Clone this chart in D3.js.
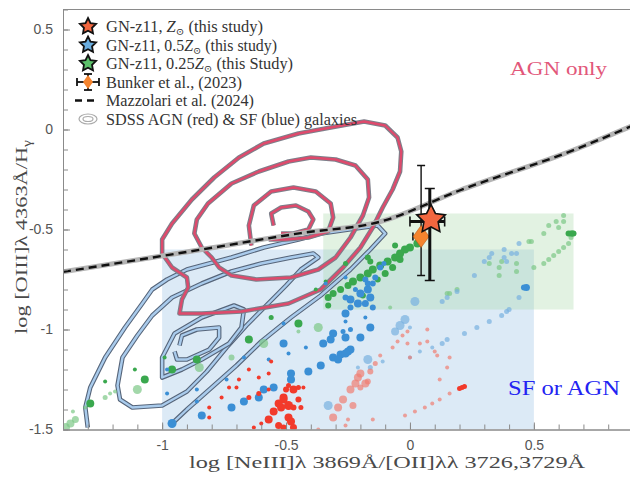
<!DOCTYPE html>
<html><head><meta charset="utf-8">
<script src="https://cdn.jsdelivr.net/npm/d3@7"></script>
<style>body{margin:0;background:#fff}svg{display:block}</style>
</head><body><svg id="c" width="630" height="477"></svg>
<script>
// ---------------- DATA ----------------
const xTicks = [-1, -0.5, 0, 0.5];
const xTickLabels = ["-1", "-0.5", "0", "0.5"];
const yTicks = [-1.5, -1, -0.5, 0, 0.5];
const yTickLabels = ["-1.5", "-1", "-0.5", "0", "0.5"];

const sfBox = [-1, 0.5, -1.5, -0.6];       // x0, x1, y0, y1
const greenBox = [-0.35, 0.66, -0.9, -0.42];

const mazX = [-1.4, -0.84, -0.44, -0.12, 0.2, 0.66, 0.9];
const mazY = [-0.712, -0.60, -0.518, -0.461, -0.305, -0.103, 0.02];

const agnOuter = [[-0.185,0.04],[-0.32,0.01],[-0.45,-0.02],[-0.59,-0.07],[-0.69,-0.14],[-0.79,-0.24],[-0.88,-0.35],[-0.96,-0.47],[-1.0,-0.55],[-1.0,-0.62],[-0.96,-0.69],[-0.90,-0.74],[-0.895,-0.79],[-0.92,-0.85],[-0.93,-0.92],[-0.84,-0.92],[-0.68,-0.91],[-0.49,-0.87],[-0.36,-0.80],[-0.27,-0.69],[-0.20,-0.59],[-0.15,-0.49],[-0.11,-0.39],[-0.07,-0.30],[-0.04,-0.21],[-0.035,-0.11],[-0.05,-0.04],[-0.10,0.02]];
const agnMiddle = [[-0.40,-0.14],[-0.30,-0.15],[-0.22,-0.18],[-0.17,-0.25],[-0.165,-0.34],[-0.19,-0.43],[-0.24,-0.54],[-0.30,-0.64],[-0.37,-0.70],[-0.48,-0.74],[-0.62,-0.75],[-0.72,-0.73],[-0.77,-0.69],[-0.80,-0.64],[-0.84,-0.59],[-0.87,-0.52],[-0.86,-0.45],[-0.815,-0.37],[-0.72,-0.27],[-0.61,-0.21],[-0.49,-0.16]];
const agnInnerLoop = [[-0.55,-0.48],[-0.56,-0.42],[-0.52,-0.39],[-0.46,-0.38],[-0.41,-0.41],[-0.39,-0.45],[-0.41,-0.50],[-0.47,-0.52],[-0.52,-0.52]];
const agnInnerArc = [[-0.64,-0.58],[-0.65,-0.48],[-0.63,-0.38],[-0.56,-0.31],[-0.47,-0.29],[-0.38,-0.31],[-0.32,-0.37],[-0.31,-0.44],[-0.33,-0.51],[-0.41,-0.54],[-0.50,-0.55],[-0.57,-0.55]];

const sfOuter = [[-1.30,-1.49],[-1.31,-1.39],[-1.29,-1.29],[-1.23,-1.14],[-1.15,-0.99],[-1.08,-0.87],[-1.04,-0.80],[-0.98,-0.75],[-0.90,-0.70],[-0.72,-0.64],[-0.59,-0.59],[-0.45,-0.55],[-0.36,-0.52],[-0.19,-0.49],[-0.13,-0.48],[-0.10,-0.52],[-0.16,-0.60],[-0.24,-0.70],[-0.36,-0.83],[-0.48,-0.94],[-0.60,-1.06],[-0.70,-1.18],[-0.80,-1.29],[-0.90,-1.40],[-0.96,-1.47]];
const sfSecond = [[-1.17,-1.35],[-1.18,-1.28],[-1.16,-1.14],[-1.10,-1.03],[-1.04,-0.93],[-0.96,-0.84],[-0.84,-0.77],[-0.72,-0.71],[-0.60,-0.67],[-0.48,-0.64],[-0.39,-0.62],[-0.37,-0.64],[-0.44,-0.70],[-0.50,-0.78],[-0.58,-0.88],[-0.66,-0.98],[-0.74,-1.09],[-0.82,-1.21],[-0.90,-1.31],[-1.00,-1.38],[-1.12,-1.39]];
const sfThird = [[-1.00,-1.24],[-1.00,-1.14],[-0.95,-1.02],[-0.84,-0.94],[-0.71,-0.88],[-0.67,-0.90],[-0.68,-0.99],[-0.73,-1.07],[-0.84,-1.15],[-0.92,-1.20]];
const sfInner = [[-0.93,-1.08],[-0.92,-1.03],[-0.86,-1.00],[-0.77,-0.99],[-0.77,-1.04],[-0.81,-1.10],[-0.90,-1.15],[-0.94,-1.15],[-0.95,-1.11]];

// scatter points: [x, y, size]
const greenLight = [[-1.39,-1.49,4.5],[-1.37,-1.47,4],[-1.35,-1.45,3.5],[-1.36,-1.41,2],[-1.31,-1.39,2],[-1.23,-1.34,2.5],[-1.21,-1.32,2],[-1.19,-1.31,2],[-1.10,-1.30,4.5],[-0.85,-1.19,4.5],[-0.59,-1.07,4.5],[-0.37,-0.99,4.5],[-0.72,-1.14,3],[-0.45,-1.01,2],[-0.08,-0.89,2],
 [0.62,-0.43,2.5],[0.59,-0.46,2.5],[0.62,-0.46,2.5],[0.56,-0.48,2.5],[0.60,-0.49,2.5],[0.54,-0.52,2.5],[0.49,-0.56,2.5],[0.48,-0.56,2.5],[0.65,-0.54,2.5],[0.64,-0.57,2.5],[0.62,-0.59,2.5],[0.60,-0.61,2.5],[0.58,-0.63,2.5],[0.56,-0.65,2.5],[0.54,-0.67,2.5],[0.50,-0.69,2.5],[0.43,-0.71,2.5],[0.43,-0.67,2.5],[0.36,-0.69,2.5],[0.36,-0.73,2.5],[0.37,-0.66,2.5],[0.32,-0.67,2.5],[0.16,-0.82,2.5],[0.19,-0.80,2.5],[0.15,-0.82,2.5]];
const blueLight = [[0.44,-0.57,2.5],[0.41,-0.62,2.5],[0.43,-0.62,2.5],[0.33,-0.62,2.5],[0.32,-0.64,2.5],[0.30,-0.66,2.5],[0.38,-0.64,2.5],[0.39,-0.66,2.5],[0.26,-0.73,2.5],[0.44,-0.84,2.5],[0.40,-0.90,2.5],[0.39,-0.91,2.5],[0.37,-0.93,2.5],[0.32,-0.96,2.5],[0.27,-0.99,2.5],[0.22,-1.02,2.5],[0.15,-1.05,2.5],[0.13,-1.07,2.5],[0.19,-0.81,2.5],[0.15,-0.84,2.5],[0.13,-0.86,2.5],[0.38,-0.60,2.5],[0.09,-1.09,2],[0.04,-1.11,2],[0.00,-1.14,2],
 [0.02,-0.86,4.5],[-0.02,-0.95,4.5],[-0.04,-0.98,4.5],[-0.06,-1.01,4],[-0.17,-1.15,4.5],[-0.33,-1.38,4.5],[0.00,-0.99,2],[-0.11,-1.16,2],[-0.16,-1.19,2.5],[-0.21,-1.19,2]];
const redLight = [[-0.12,-1.13,2],[-0.07,-1.09,2],[-0.05,-1.06,2],[-0.03,-1.03,2],[-0.01,-1.01,2],[-0.01,-1.07,2],[0.04,-1.07,2],[0.07,-1.06,2],[0.07,-1.00,2],[0.10,-1.11,2],[0.11,-1.13,2],[0.16,-1.14,2],[0.15,-1.19,2],[0.12,-1.25,2],[0.12,-1.35,2],[0.09,-1.37,2],[0.06,-1.39,2],[0.02,-1.41,2],[-0.02,-1.43,2],[0.00,-1.14,2],[0.16,-1.32,2],[-0.15,-1.45,2],[-0.25,-1.45,2],[-0.26,-1.48,2],[-0.37,-1.50,2],
 [-0.20,-1.22,4],[-0.21,-1.24,4],[-0.18,-1.27,4],[-0.22,-1.27,4],[-0.24,-1.30,4],[-0.27,-1.35,4],[-0.29,-1.39,4],[-0.23,-1.38,3.5],[-0.31,-1.44,4],[-0.16,-1.21,3],[-0.17,-1.26,3],[-0.20,-1.29,3],[-0.14,-1.17,2.5]];
const greenSolid = [[0.03,-0.57,4],[0.00,-0.59,4],[-0.02,-0.60,4],[-0.04,-0.62,4],[-0.06,-0.64,4],[-0.09,-0.66,4],[-0.12,-0.68,4],[-0.15,-0.70,4],[-0.17,-0.72,4],[-0.20,-0.74,4],[-0.23,-0.76,4],[-0.25,-0.78,3.5],[-0.28,-0.80,3.5],[-0.31,-0.82,3.5],[-0.33,-0.84,3.5],[-0.33,-0.88,3],[-0.04,-0.65,3.5],[-0.07,-0.69,3.5],[-0.10,-0.72,3.5],[-0.13,-0.75,3],[-0.16,-0.66,3],[-0.06,-0.58,3],[-0.26,-0.67,2.5],[-0.17,-0.64,3],[-0.19,-0.83,3],[-0.38,-0.80,2],[-0.34,-0.76,2],
 [-0.45,-0.97,4],[-0.65,-1.05,4],[-0.96,-1.20,4],[-0.86,-1.15,4],[-1.07,-1.25,4],[-1.11,-1.20,2],[-1.23,-1.26,2],[-0.56,-0.94,2.5],[-1.29,-1.37,4],[-0.99,-1.14,2],
 [0.64,-0.52,3],[0.65,-0.52,3],[0.66,-0.52,3],[0.655,-0.52,3]];
const blueSolid = [[-0.24,-0.85,4],[-0.20,-0.82,4],[-0.17,-0.80,4],[-0.16,-0.84,4],[-0.21,-0.87,4],[-0.18,-0.87,3.5],[-0.15,-0.89,3],[-0.24,-0.89,3],[-0.26,-0.84,3],[-0.17,-0.77,3],[-0.15,-0.77,3],[-0.14,-0.74,3],[-0.105,-0.67,2.5],[-0.18,-0.75,3],[-0.22,-0.80,2.5],[-0.26,-0.74,2],[-0.12,-0.69,3],[-0.34,-0.77,2],
 [-0.26,-0.92,4],[-0.16,-0.99,4],[-0.31,-1.02,4],[-0.35,-1.07,4],[-0.20,-1.04,4],[-0.24,-1.00,2.5],[-0.26,-0.96,2],[-0.26,-1.04,4],[-0.32,-1.05,4],[-0.27,-1.01,2.5],[-0.18,-0.94,2],
 [-0.41,-1.21,4],[-0.36,-1.18,4],[-0.31,-1.14,4],[-0.28,-1.125,4],[-0.25,-1.11,4],[-0.24,-1.10,4],[-0.29,-1.15,4],[-0.26,-1.12,4],
 [-0.48,-1.22,4],[-0.48,-1.25,4],[-0.55,-1.29,4],[-0.59,-1.30,4],[-0.61,-1.34,4],[-0.67,-1.36,4],[-0.72,-1.39,4],[-0.84,-1.43,4],[-0.96,-1.47,4.5],
 [-0.51,-1.07,4],[-0.51,-0.97,2],[-0.42,-1.09,2],[-0.49,-1.12,2],[-0.57,-1.15,2],[-0.67,-1.14,2],[-0.74,-1.25,2],[-0.86,-1.30,2],[-0.98,-1.32,2],[-0.98,-1.20,2],[-0.86,-1.36,2],
 [0.47,-0.79,3.5],[0.46,-0.79,3]];
const redSolid = [[-0.51,-1.35,4],[-0.49,-1.38,4.5],[-0.52,-1.39,4],[-0.53,-1.37,4],[-0.47,-1.39,3],[-0.47,-1.30,4],[-0.50,-1.30,3],[-0.51,-1.34,4],[-0.55,-1.41,4],[-0.49,-1.44,4],[-0.48,-1.46,4],[-0.51,-1.49,3],[-0.45,-1.35,3],[-0.44,-1.39,2.5],[-0.45,-1.29,2.5],[-0.49,-1.28,2.5],[-0.63,-1.49,2],[-0.60,-1.47,2],[-0.57,-1.45,4],[-0.65,-1.34,2.5],[-0.61,-1.32,2.5],[-0.57,-1.30,2],[-0.70,-1.29,2],[-0.73,-1.29,2],[-0.76,-1.34,2],[-0.81,-1.39,2],[-0.81,-1.44,2],[-0.65,-1.20,2],[-0.69,-1.25,2],[-0.61,-1.24,2],[-0.57,-1.22,2],[-0.56,-1.16,2],[-0.43,-1.29,2],[-0.53,-1.48,3.5],[-0.47,-1.49,3.5],
 [0.20,-1.295,2.5],[0.21,-1.29,2.5],[0.22,-1.285,2.5]];

// GN-z11 model star and Bunker et al. (2023) measurements
const starX = [0.085], starY = [-0.45];
const bunkerX = [0.045, 0.08];
const bunkerY = [-0.535, -0.46];
const bunkerXlo = [0.012, 0.0], bunkerXhi = [0.08, 0.14];
const bunkerYlo = [-0.73, -0.755], bunkerYhi = [-0.18, -0.295];

const legendLabels = ["GN-z11, ", "GN-z11, 0.5", "GN-z11, 0.25", "Bunker et al., (2023)", "Mazzolari et al. (2024)", "SDSS AGN (red) & SF (blue) galaxies"];

// ---------------- DRAW ----------------
const svg = d3.select("#c");
const x = d3.scaleLinear([-1.4, 0.9], [63, 633]);
const y = d3.scaleLinear([-1.5, 0.6], [429.5, 9.5]);
const SERIF = "'Liberation Serif','DejaVu Serif',serif";
const SANS = "'Liberation Sans',Arial,sans-serif";

svg.append("defs").append("clipPath").attr("id", "clip")
  .append("rect").attr("x", 63).attr("y", 9.5).attr("width", 570).attr("height", 420);
const plot = svg.append("g").attr("clip-path", "url(#clip)");

function box(b, fill, op) {
  plot.append("rect").attr("x", x(b[0])).attr("width", x(b[1]) - x(b[0]))
    .attr("y", y(b[3])).attr("height", y(b[2]) - y(b[3]))
    .attr("fill", fill).attr("fill-opacity", op);
}
box(sfBox, "#a8cbe8", 0.4);
box(greenBox, "#a6d7a6", 0.33);

const lineOpen = d3.line().x(d => x(d[0])).y(d => y(d[1]));
const lineClosed = d3.line().x(d => x(d[0])).y(d => y(d[1])).curve(d3.curveLinearClosed);
function contour(pts, closed, outer, inner) {
  const p = (closed ? lineClosed : lineOpen)(pts);
  plot.append("path").attr("d", p).attr("fill", "none").attr("stroke", outer).attr("stroke-width", 4.6).attr("stroke-linejoin", "round");
  plot.append("path").attr("d", p).attr("fill", "none").attr("stroke", inner).attr("stroke-width", 2.4).attr("stroke-linejoin", "round");
}
const sfO = "#56657a", sfI = "#a9cbec", agO = "#7d7f8a", agI = "#de4a6c";
contour(sfOuter, false, sfO, sfI);
contour(sfSecond, true, sfO, sfI);
contour(sfThird, true, sfO, sfI);
contour(sfInner, false, sfO, sfI);
contour(agnOuter, true, agO, agI);
contour(agnMiddle, true, agO, agI);
contour(agnInnerLoop, false, agO, agI);
contour(agnInnerArc, false, agO, agI);

// Mazzolari line
const maz = mazX.map((v, i) => [v, mazY[i]]);
const mazLine = d3.line().x(d => x(d[0])).y(d => y(d[1])).curve(d3.curveMonotoneX);
plot.append("path").attr("d", mazLine(maz)).attr("fill", "none").attr("stroke", "#b4b4b4").attr("stroke-width", 5);
plot.append("path").attr("d", mazLine(maz)).attr("fill", "none").attr("stroke", "#111").attr("stroke-width", 2.4).attr("stroke-dasharray", "8,5");

function dots(arr, fill, op) {
  plot.append("g").selectAll("circle").data(arr).join("circle")
    .attr("cx", d => x(d[0])).attr("cy", d => y(d[1])).attr("r", d => d[2])
    .attr("fill", fill).attr("fill-opacity", op);
}
dots(greenLight, "#7cc886", 0.7);
dots(blueLight, "#78b0e0", 0.7);
dots(redLight, "#ef7d72", 0.7);
dots(greenSolid, "#3aa84e", 1);
dots(blueSolid, "#3b8fd5", 1);
dots(redSolid, "#f23a2b", 1);

// error bars
function errbar(g, i, w, cap) {
  const cx = x(bunkerX[i]), cy = y(bunkerY[i]);
  const s = g.append("g").attr("stroke", "#111").attr("stroke-width", w).attr("fill", "none");
  s.append("line").attr("x1", cx).attr("x2", cx).attr("y1", y(bunkerYlo[i])).attr("y2", y(bunkerYhi[i]));
  s.append("line").attr("x1", x(bunkerXlo[i])).attr("x2", x(bunkerXhi[i])).attr("y1", cy).attr("y2", cy);
  [bunkerYlo[i], bunkerYhi[i]].forEach(v => s.append("line").attr("x1", cx - cap).attr("x2", cx + cap).attr("y1", y(v)).attr("y2", y(v)).attr("stroke-width", 1.6));
  [bunkerXlo[i], bunkerXhi[i]].forEach(v => s.append("line").attr("x1", x(v)).attr("x2", x(v)).attr("y1", cy - cap).attr("y2", cy + cap).attr("stroke-width", 1.6));
}
function diamondPath(w, h) { return `M0,${-h}L${w},0L0,${h}L${-w},0Z`; }
function starPath(R) {
  const r = R * 0.5; let p = "";
  for (let k = 0; k < 10; k++) {
    const a = -Math.PI / 2 + k * Math.PI / 5, rr = k % 2 ? r : R;
    p += (k ? "L" : "M") + (rr * Math.cos(a)).toFixed(2) + "," + (rr * Math.sin(a)).toFixed(2);
  }
  return p + "Z";
}
const markG = svg.append("g").attr("clip-path", "url(#clip)");
errbar(markG, 0, 1.4, 4);
markG.append("path").attr("d", diamondPath(8, 11)).attr("transform", `translate(${x(bunkerX[0])},${y(bunkerY[0])})`)
  .attr("fill", "#f5842e").attr("stroke", "#b85a1a").attr("stroke-width", 0.6);
errbar(markG, 1, 3, 5);
markG.append("path").attr("d", starPath(15)).attr("transform", `translate(${x(starX[0])},${y(starY[0])})`)
  .attr("fill", "#f2663f").attr("stroke", "#111").attr("stroke-width", 1.6).attr("stroke-linejoin", "miter");

// axes
const axColor = "#8a8a8a";
function styleAxis(g) {
  g.select(".domain").attr("stroke", axColor);
  g.selectAll(".tick line").attr("stroke", axColor);
  g.selectAll(".tick text").attr("fill", "#555").attr("font-family", SANS).attr("font-size", 14);
}
const yMinor = d3.range(-15, 7).map(i => i / 10);
const xMinor = d3.range(-14, 10).map(i => i / 10);
svg.append("g").attr("transform", "translate(63,0)")
  .call(d3.axisLeft(y).tickValues(yMinor).tickFormat("").tickSize(-5).tickSizeOuter(0)).call(styleAxis);
svg.append("g").attr("transform", "translate(63,0)")
  .call(d3.axisLeft(y).tickValues(yTicks).tickFormat((d, i) => yTickLabels[i]).tickSize(-7).tickSizeOuter(0).tickPadding(10)).call(styleAxis);
svg.append("g").attr("transform", "translate(0,429.5)")
  .call(d3.axisBottom(x).tickValues(xMinor).tickFormat("").tickSize(-5).tickSizeOuter(0)).call(styleAxis);
svg.append("g").attr("transform", "translate(0,429.5)")
  .call(d3.axisBottom(x).tickValues(xTicks).tickFormat((d, i) => xTickLabels[i]).tickSize(-7).tickSizeOuter(0).tickPadding(11)).call(styleAxis);
svg.append("line").attr("x1", 63).attr("x2", 633).attr("y1", 9.5).attr("y2", 9.5).attr("stroke", axColor);

// axis titles
svg.append("text").attr("x", 387).attr("y", 468).attr("text-anchor", "middle")
  .attr("font-family", SERIF).attr("font-size", 17).attr("fill", "#4a4a4a")
  .attr("textLength", 396).attr("lengthAdjust", "spacingAndGlyphs")
  .text("log [NeIII]λ 3869Å/[OII]λλ 3726,3729Å");
const yt = svg.append("text").attr("transform", "translate(27,237) rotate(-90)").attr("text-anchor", "middle")
  .attr("font-family", SERIF).attr("font-size", 17).attr("fill", "#4a4a4a")
  .attr("textLength", 194).attr("lengthAdjust", "spacingAndGlyphs");
yt.append("tspan").text("log [OIII]λ 4363Å/H");
yt.append("tspan").attr("dy", 4).attr("font-size", 12).text("γ");

// region labels
svg.append("text").attr("x", 510).attr("y", 75).attr("font-family", SERIF).attr("font-size", 19)
  .attr("fill", "#e2577a").attr("textLength", 97).attr("lengthAdjust", "spacingAndGlyphs").text("AGN only");
svg.append("text").attr("x", 508).attr("y", 395).attr("font-family", SERIF).attr("font-size", 21)
  .attr("fill", "#2323f2").attr("textLength", 112).attr("lengthAdjust", "spacingAndGlyphs").text("SF or AGN");

// legend
const lg = svg.append("g");
const rowY = [26.5, 45, 63.5, 82, 100.5, 119];
const rowW = [157, 171, 187, 136, 148, 251];
const starCols = ["#f2663f", "#6aaee0", "#5cc06a"];
for (let i = 0; i < 6; i++) {
  const t = lg.append("text").attr("x", 106).attr("y", rowY[i] + 5.5).attr("font-family", SERIF)
    .attr("font-size", 16).attr("fill", "#333").attr("textLength", rowW[i]).attr("lengthAdjust", "spacingAndGlyphs");
  if (i < 3) {
    t.append("tspan").text(legendLabels[i]);
    t.append("tspan").attr("font-style", "italic").text("Z");
    t.append("tspan").attr("font-size", 10).attr("dy", 3).text("⊙");
    t.append("tspan").attr("dy", -3).text(i === 2 ? " (this Study)" : " (this study)");
    lg.append("path").attr("d", starPath(8.5)).attr("transform", `translate(88,${rowY[i]})`)
      .attr("fill", starCols[i]).attr("stroke", "#111").attr("stroke-width", 1.8);
  } else {
    t.text(legendLabels[i]);
  }
}
{
  const cy = rowY[3], g = lg.append("g").attr("stroke", "#111").attr("stroke-width", 1.8);
  g.append("line").attr("x1", 77).attr("x2", 99).attr("y1", cy).attr("y2", cy);
  g.append("line").attr("x1", 88).attr("x2", 88).attr("y1", cy - 8).attr("y2", cy + 8);
  g.append("line").attr("x1", 77).attr("x2", 77).attr("y1", cy - 4).attr("y2", cy + 4);
  g.append("line").attr("x1", 99).attr("x2", 99).attr("y1", cy - 4).attr("y2", cy + 4);
  g.append("line").attr("x1", 84).attr("x2", 92).attr("y1", cy - 8).attr("y2", cy - 8);
  g.append("line").attr("x1", 84).attr("x2", 92).attr("y1", cy + 8).attr("y2", cy + 8);
  lg.append("path").attr("d", diamondPath(5, 7)).attr("transform", `translate(88,${cy})`).attr("fill", "#f5842e");
}
lg.append("line").attr("x1", 75).attr("x2", 98).attr("y1", rowY[4]).attr("y2", rowY[4])
  .attr("stroke", "#111").attr("stroke-width", 2.6).attr("stroke-dasharray", "7,5");
lg.append("ellipse").attr("cx", 88).attr("cy", rowY[5]).attr("rx", 9).attr("ry", 5).attr("fill", "none").attr("stroke", "#aaa").attr("stroke-width", 1.2);
lg.append("ellipse").attr("cx", 88).attr("cy", rowY[5]).attr("rx", 5).attr("ry", 2.5).attr("fill", "none").attr("stroke", "#aaa").attr("stroke-width", 1.2);
</script>
</body></html>
